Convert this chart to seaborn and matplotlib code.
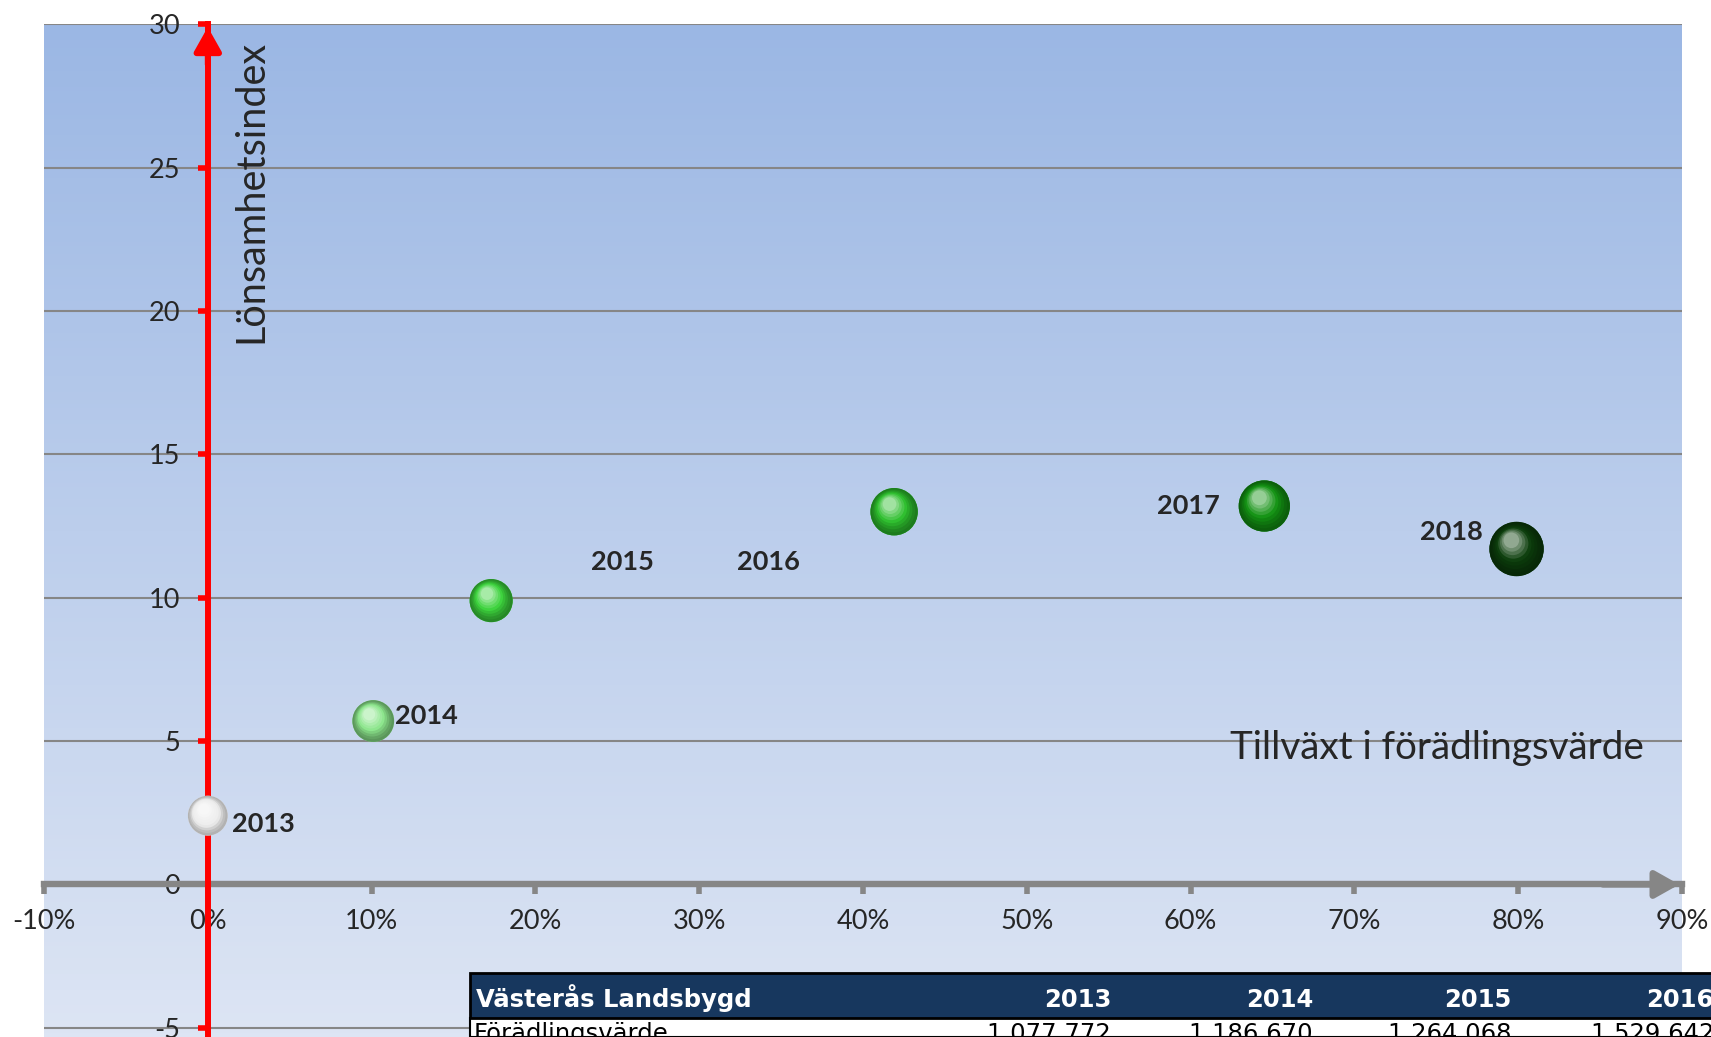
import numpy as np
import matplotlib
matplotlib.use("Agg")
import matplotlib.pyplot as plt
import matplotlib.transforms as mtransforms
from matplotlib.colors import to_rgb, LinearSegmentedColormap
from matplotlib.patches import Rectangle
from matplotlib.ticker import PercentFormatter
import seaborn as sns

# data
years = ["2013", "2014", "2015", "2016", "2017", "2018"]
growth = [0.0, 0.101, 0.173, 0.419, 0.645, 0.799]           # Tillväxt i förädlingsvärde
profit_index = [2.4, 5.7, 9.9, 13.0, 13.2, 11.7]             # Lönsamhetsindex
value_added = [1077772, 1186670, 1264068, 1529642, 1790000, 2010000]  # bubble size
bubble_colors = ["#EDEDED", "#8CE68C", "#3CD23C", "#2DBE2D", "#139213", "#0B3D0B"]
# label offsets in points (Excel put some labels far from their bubble)
label_dx = [40.2, 38.4, 94.3, -90.7, -55.0, -47.1]
label_dy = [-5.8, 3.6, 27.9, -36.0, 0.0, 12.6]

# table under the chart
table_title = "Västerås Landsbygd"
table_years = ["2013", "2014", "2015", "2016"]
table_row_name = "Förädlingsvärde"
table_row_values = ["1 077 772", "1 186 670", "1 264 068", "1 529 642"]

W, H = 1711, 1037
sns.set_style("white")
plt.rcParams["font.family"] = ["Lato", "DejaVu Sans"]
plt.rcParams["axes.unicode_minus"] = False

fig = plt.figure(figsize=(W / 100, H / 100), dpi=100)
ax = fig.add_axes([44 / W, 0, (1682 - 44) / W, 1 - 24.3 / H])

y_low, y_top = -5.32, 30
x_low, x_top = -0.10, 0.90

# gradient background of the plot area
cmap = LinearSegmentedColormap.from_list("bg", ["#DDE5F4", "#9BB7E4"])
ax.imshow(np.linspace(0, 1, 256).reshape(-1, 1), cmap=cmap, aspect="auto",
          extent=[0, 1, 0, 1], transform=ax.transAxes, origin="lower", zorder=0)

# bubbles: area proportional to förädlingsvärde
base_s = 820
sizes = {y: v / value_added[0] * base_s for y, v in zip(years, value_added)}
palette = dict(zip(years, bubble_colors))
sns.scatterplot(x=growth, y=profit_index, hue=years, palette=palette,
                size=years, sizes=sizes, legend=False, ax=ax,
                edgecolor="none", zorder=5)


def mix(c, t):
    c = np.array(to_rgb(c))
    if t >= 0:
        return tuple(c + (1 - c) * t)
    return tuple(c * (1 + t))


# fake 3d shading: stacked circles, lighter toward the upper left
n_layers = 9
for x, y, yr, col in zip(growth, profit_index, years, bubble_colors):
    s = sizes[yr]
    r = np.sqrt(s) / 2
    rim = -0.35 if yr != "2013" else -0.25
    for k in range(n_layers):
        f = 1 - 0.8 * k / n_layers
        off = (1 - f) * r * 0.45
        tr = mtransforms.offset_copy(ax.transData, fig=fig, x=-off * 0.6, y=off, units="points")
        t = rim + (0.55 - rim) * (k / (n_layers - 1)) ** 1.3
        ax.scatter([x], [y], s=s * f ** 2, color=mix(col, t), edgecolor="none",
                   transform=tr, zorder=6 + k)

for x, y, yr, dx, dy in zip(growth, profit_index, years, label_dx, label_dy):
    ax.annotate(yr, xy=(x, y), xytext=(dx, dy), textcoords="offset points",
                ha="center", va="center", fontsize=19.5, fontweight="bold", zorder=20)

ax.set_xlim(x_low, x_top)
ax.set_ylim(y_low, y_top)
ax.set_yticks(np.arange(-5, 31, 5))
ax.set_xticks(np.arange(-0.1, 0.91, 0.1))
ax.xaxis.set_major_formatter(PercentFormatter(1.0, decimals=0))
ax.yaxis.grid(True, color="#868686", linewidth=1.5, zorder=1)
ax.xaxis.grid(False)
ax.set_axisbelow(True)

for side in ["top", "right"]:
    ax.spines[side].set_visible(False)
ax.spines["left"].set_position(("data", 0))
ax.spines["bottom"].set_position(("data", 0))
ax.spines["left"].set_color("red")
ax.spines["left"].set_linewidth(4.3)
ax.spines["bottom"].set_color("#868686")
ax.spines["bottom"].set_linewidth(4.6)
ax.spines["left"].set_zorder(4)
ax.spines["bottom"].set_zorder(3)

ax.tick_params(axis="y", direction="out", length=7, width=4, color="red",
               labelsize=19.5, pad=13)
ax.tick_params(axis="x", direction="out", length=7, width=4, color="#868686",
               labelsize=19.5, pad=11)
ax.tick_params(left=True, bottom=True)

# axis arrows
ax.annotate("", xy=(0, y_top), xytext=(0, y_top - 1.5),
            arrowprops=dict(arrowstyle="-|>,head_length=0.8,head_width=0.45",
                            color="red", lw=4.3, mutation_scale=18),
            annotation_clip=False, zorder=6)
ax.annotate("", xy=(x_top, 0), xytext=(x_top - 0.05, 0),
            arrowprops=dict(arrowstyle="-|>,head_length=0.8,head_width=0.45",
                            color="#868686", lw=4.6, mutation_scale=18),
            annotation_clip=False, zorder=6)

ax.text(0.026, 29.47, "Lönsamhetsindex", rotation=90, ha="center", va="top", fontsize=28.5)
ax.text(0.624, 4.36, "Tillväxt i förädlingsvärde", ha="left", va="baseline", fontsize=27.8)
ax.set_xlabel("")
ax.set_ylabel("")

# table overlapping the bottom of the chart (figure pixel coords)
def fx(px):
    return px / W


def fy(py):
    return 1 - py / H


tab_font = ["DejaVu Sans"]
tab_left, tab_top, head_bot = 470, 973, 1018
fig.add_artist(Rectangle((fx(tab_left), 0), fx(W + 10) - fx(tab_left), fy(head_bot),
                         transform=fig.transFigure, facecolor="white", edgecolor="black",
                         linewidth=1.5, zorder=30))
fig.add_artist(Rectangle((fx(tab_left), fy(head_bot)), fx(W + 10) - fx(tab_left),
                         fy(tab_top) - fy(head_bot), transform=fig.transFigure,
                         facecolor="#17375E", edgecolor="black", linewidth=2, zorder=31))
fig.text(fx(476), fy(1007), table_title, color="white", fontsize=17.5, fontweight="bold",
         family=tab_font, ha="left", va="baseline", zorder=32)
fig.text(fx(474), fy(1041), table_row_name, color="black", fontsize=17.5,
         family=tab_font, ha="left", va="baseline", zorder=32)
col_right = [1111, 1313, 1512, 1714]
for cx, yr, val in zip(col_right, table_years, table_row_values):
    fig.text(fx(cx), fy(1007), yr, color="white", fontsize=17.5, fontweight="bold",
             family=tab_font, ha="right", va="baseline", zorder=32)
    fig.text(fx(cx), fy(1041), val, color="black", fontsize=17.5,
             family=tab_font, ha="right", va="baseline", zorder=32)

fig.savefig("out.png", dpi=100)
